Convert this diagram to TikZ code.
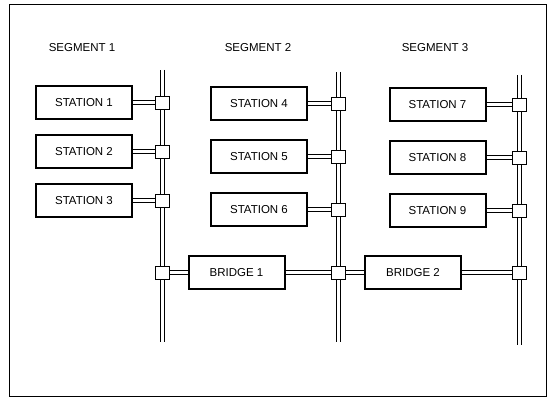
\documentclass[tikz,border=0pt]{standalone}
\usepackage{fontspec}
\setmainfont{Liberation Sans}
\usetikzlibrary{positioning,calc}

\begin{document}
\begin{tikzpicture}[
  x=1pt, y=-1pt,
  station/.style={draw,line width=2pt,minimum width=96pt,minimum height=33pt,
    inner sep=0pt,font=\fontsize{11.5}{13}\selectfont},
  tap/.style={draw,fill=white,line width=0.9pt,minimum width=14pt,minimum height=13pt,inner sep=0pt},
  bus/.style={line width=0.9pt,double,double distance=3.2pt},
  seglbl/.style={font=\fontsize{11.5}{13}\selectfont},
]
\useasboundingbox (0,0) rectangle (548,398);

% Frame
\draw[line width=0.9pt] (9.5,4.5) rectangle (546.5,396.5);

% Segment labels
\foreach \s/\x in {1/82,2/258,3/435}{
  \node[seglbl] (L\s) at (\x,48) {SEGMENT \s};
}

% Buses (double lines)
\foreach \s/\x/\t/\b in {1/162.5/70/342, 2/338.5/72/342, 3/519.5/75/345}{
  \coordinate (Bt\s) at (\x,\t);
  \coordinate (Bb\s) at (\x,\b);
  \draw[bus] (Bt\s) -- (Bb\s);
}

% Stations with their taps
\foreach \k/\s/\x/\y in {1/1/84/102.5, 2/1/84/151.5, 3/1/84/200.5,
                         4/2/259/103.5, 5/2/259/156.5, 6/2/259/209.5,
                         7/3/437.5/104.5, 8/3/437.5/157.5, 9/3/437.5/210.5}{
  \node[station] (S\k) at (\x,\y) {STATION \k};
  \node[tap] (T\k) at (Bt\s |- S\k) {};
  \draw[bus] (S\k) -- (T\k);
}

% Bridges
\node[station] (Br1) at (236.5,272.5) {BRIDGE 1};
\node[station] (Br2) at (413,272.5) {BRIDGE 2};
\node[tap] (Tb1) at (Bt1 |- Br1) {};
\node[tap] (Tb2) at (Bt2 |- Br1) {};
\node[tap] (Tb3) at (Bt3 |- Br2) {};
\draw[bus] (Tb1) -- (Br1);
\draw[bus] (Br1) -- (Tb2);
\draw[bus] (Tb2) -- (Br2);
\draw[bus] (Br2) -- (Tb3);
\end{tikzpicture}
\end{document}
